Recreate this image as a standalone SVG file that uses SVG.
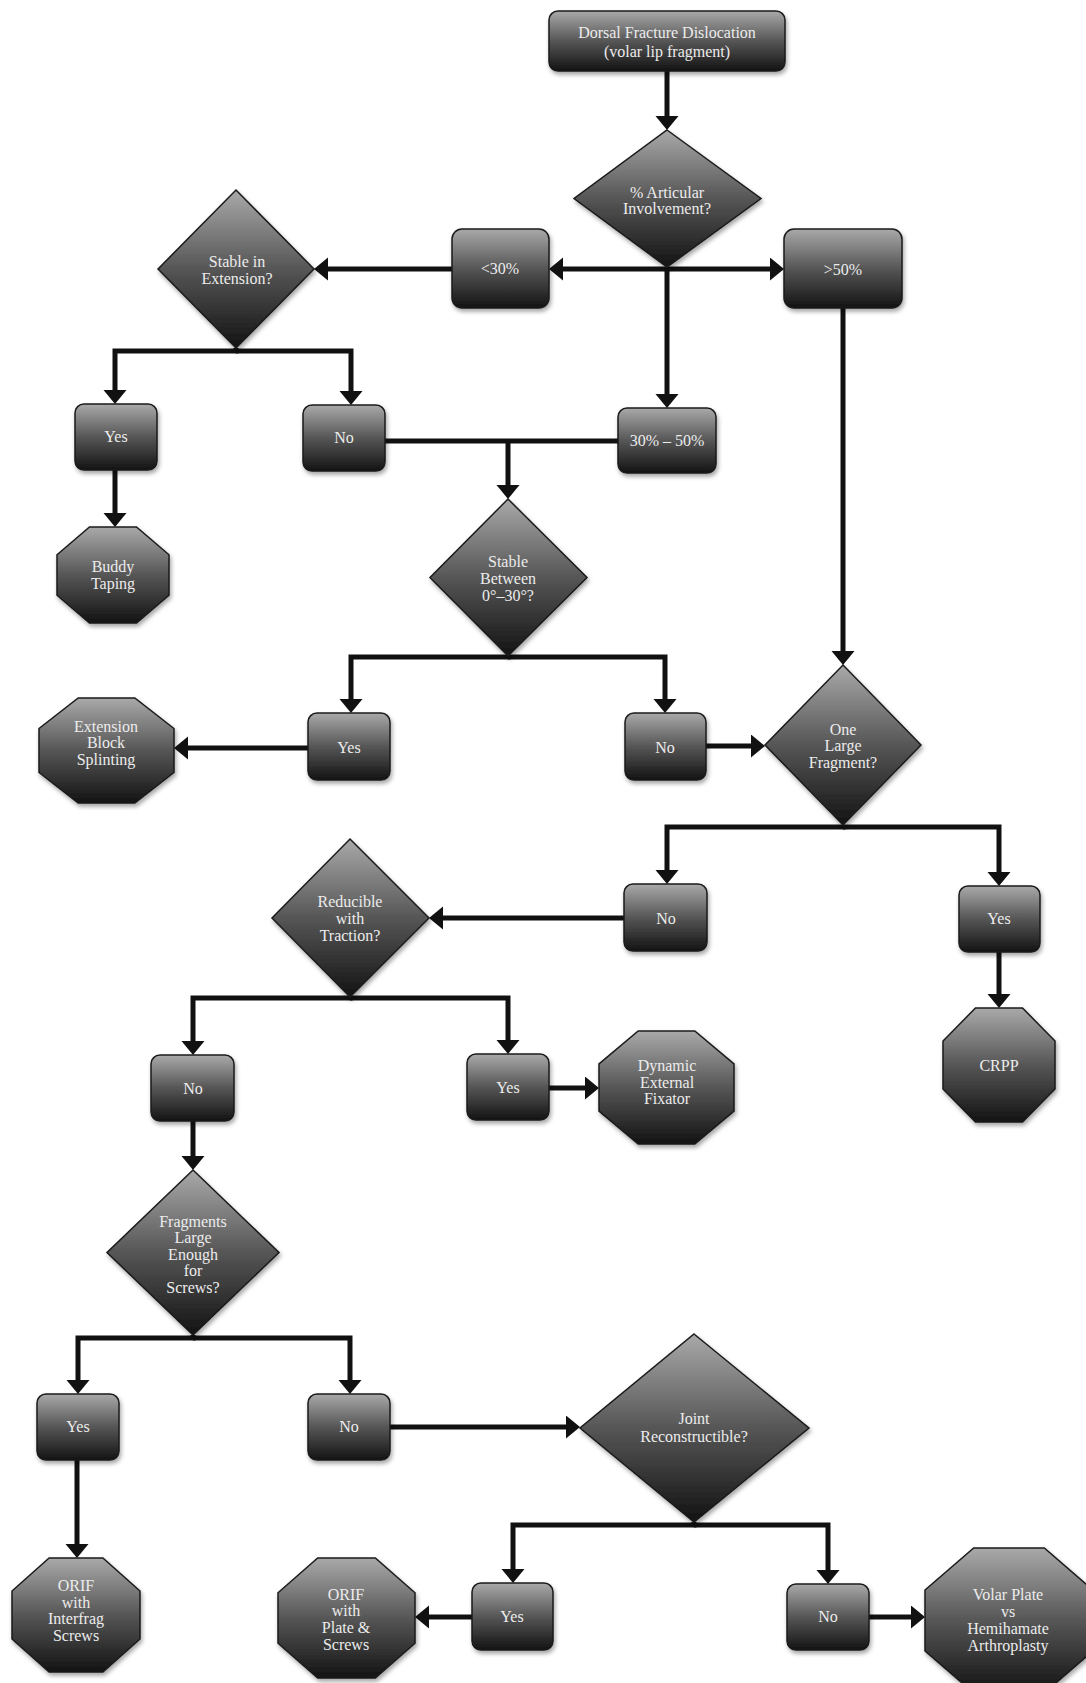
<svg xmlns="http://www.w3.org/2000/svg" width="1086" height="1683" viewBox="0 0 1086 1683">
<style>
.n{fill:url(#g);stroke:#1a1a1a;stroke-width:1.5;filter:url(#sh)}
.t{font-family:"Liberation Serif","Times New Roman",serif;font-size:16px;fill:#ececec;text-anchor:middle}
.c{fill:none;stroke:#111;stroke-width:5;stroke-linejoin:miter}
.a{marker-end:url(#ah)}
</style>
<defs>
<linearGradient id="g" x1="0" y1="0" x2="0" y2="1">
<stop offset="0" stop-color="#a9a9a9"/>
<stop offset="0.5" stop-color="#565656"/>
<stop offset="1" stop-color="#131313"/>
</linearGradient>
<filter id="sh" x="-20%" y="-20%" width="140%" height="150%">
<feDropShadow dx="1.5" dy="3" stdDeviation="2" flood-color="#000" flood-opacity="0.35"/>
</filter>
<marker id="ah" markerUnits="userSpaceOnUse" markerWidth="24" markerHeight="24" refX="4" refY="11.5" orient="auto">
<path d="M0,0 L14,11.5 L0,23 z" fill="#111"/>
</marker>
</defs>
<rect width="1086" height="1683" fill="#fff"/>
<g id="connectors">
<path class="c a" d="M667,71 V120"/>
<path class="c a" d="M667,269 H559"/>
<path class="c a" d="M667,269 H774"/>
<path class="c a" d="M667,267 V398"/>
<path class="c a" d="M452,269 H324"/>
<path class="c a" d="M236,348 V351 H115 V394"/>
<path class="c a" d="M236,351 H351 V395"/>
<path class="c a" d="M115,470 V517"/>
<path class="c" d="M385,441 H618"/>
<path class="c a" d="M508,441 V489"/>
<path class="c a" d="M508,656 V657 H351 V703"/>
<path class="c a" d="M508,657 H665 V703"/>
<path class="c a" d="M308,748 H184"/>
<path class="c a" d="M706,746 H755"/>
<path class="c a" d="M843,308 V655"/>
<path class="c a" d="M843,825 V827 H667 V874"/>
<path class="c a" d="M843,827 H999 V876"/>
<path class="c a" d="M624,918 H439"/>
<path class="c a" d="M999,952 V998"/>
<path class="c a" d="M350,997 V998 H193 V1045"/>
<path class="c a" d="M350,998 H508 V1044"/>
<path class="c a" d="M549,1088 H589"/>
<path class="c a" d="M193,1121 V1160"/>
<path class="c a" d="M193,1335 V1338 H78 V1384"/>
<path class="c a" d="M193,1338 H350 V1384"/>
<path class="c a" d="M77,1460 V1548"/>
<path class="c a" d="M390,1427 H570"/>
<path class="c a" d="M694,1522 V1525 H513 V1573"/>
<path class="c a" d="M694,1525 H828 V1574"/>
<path class="c a" d="M472,1617 H425"/>
<path class="c a" d="M869,1617 H915"/>
</g>
<g id="start"><rect class="n" x="549" y="11" width="236" height="60" rx="9"/><text class="t" x="667" y="38">Dorsal Fracture Dislocation</text><text class="t" x="667" y="57">(volar lip fragment)</text></g>
<g id="q-articular"><polygon class="n" points="667,130 761,198.5 667,267 574,198.5"/><text class="t" x="667" y="198">% Articular</text><text class="t" x="667" y="214">Involvement?</text></g>
<g id="lt30"><rect class="n" x="452" y="229" width="97" height="79" rx="10"/><text class="t" x="500" y="274">&lt;30%</text></g>
<g id="gt50"><rect class="n" x="784" y="229" width="118" height="79" rx="10"/><text class="t" x="843" y="275">&gt;50%</text></g>
<g id="q-ext"><polygon class="n" points="236,190 314,269 236,348 158,269"/><text class="t" x="237" y="267">Stable in</text><text class="t" x="237" y="284">Extension?</text></g>
<g id="yes1"><rect class="n" x="75" y="404" width="82" height="66" rx="9"/><text class="t" x="116" y="442">Yes</text></g>
<g id="no1"><rect class="n" x="303" y="405" width="82" height="66" rx="9"/><text class="t" x="344" y="443">No</text></g>
<g id="r3050"><rect class="n" x="618" y="408" width="98" height="65" rx="9"/><text class="t" x="667" y="446">30% – 50%</text></g>
<g id="buddy"><polygon class="n" points="89.5,527 136.5,527 169,554.8 169,595.2 136.5,623 89.5,623 57,595.2 57,554.8"/><text class="t" x="113" y="572">Buddy</text><text class="t" x="113" y="589">Taping</text></g>
<g id="q-between"><polygon class="n" points="508,499 587,577.5 508,656 430,577.5"/><text class="t" x="508" y="567">Stable</text><text class="t" x="508" y="584">Between</text><text class="t" x="508" y="601">0°–30°?</text></g>
<g id="extblock"><polygon class="n" points="78.2,698 134.8,698 174,728.5 174,772.5 134.8,803 78.2,803 39,772.5 39,728.5"/><text class="t" x="106" y="732">Extension</text><text class="t" x="106" y="748">Block</text><text class="t" x="106" y="765">Splinting</text></g>
<g id="yes2"><rect class="n" x="308" y="713" width="82" height="67" rx="9"/><text class="t" x="349" y="753">Yes</text></g>
<g id="no2"><rect class="n" x="625" y="713" width="81" height="67" rx="9"/><text class="t" x="665" y="753">No</text></g>
<g id="q-onelarge"><polygon class="n" points="843,665 921,745 843,825 765,745"/><text class="t" x="843" y="735">One</text><text class="t" x="843" y="751">Large</text><text class="t" x="843" y="768">Fragment?</text></g>
<g id="no3"><rect class="n" x="624" y="884" width="83" height="67" rx="9"/><text class="t" x="666" y="924">No</text></g>
<g id="yes3"><rect class="n" x="959" y="886" width="81" height="66" rx="9"/><text class="t" x="999" y="924">Yes</text></g>
<g id="q-reducible"><polygon class="n" points="350,839 429,918 350,997 272,918"/><text class="t" x="350" y="907">Reducible</text><text class="t" x="350" y="924">with</text><text class="t" x="350" y="941">Traction?</text></g>
<g id="crpp"><polygon class="n" points="975.5,1008 1022.5,1008 1055,1041 1055,1089 1022.5,1122 975.5,1122 943,1089 943,1041"/><text class="t" x="999" y="1071">CRPP</text></g>
<g id="no4"><rect class="n" x="151" y="1055" width="83" height="66" rx="9"/><text class="t" x="193" y="1094">No</text></g>
<g id="yes4"><rect class="n" x="467" y="1054" width="82" height="66" rx="9"/><text class="t" x="508" y="1093">Yes</text></g>
<g id="dynamic"><polygon class="n" points="638.2,1031 694.8,1031 734,1063.8 734,1111.2 694.8,1144 638.2,1144 599,1111.2 599,1063.8"/><text class="t" x="667" y="1071">Dynamic</text><text class="t" x="667" y="1088">External</text><text class="t" x="667" y="1104">Fixator</text></g>
<g id="q-fragments"><polygon class="n" points="193,1170 279,1252.5 193,1335 107,1252.5"/><text class="t" x="193" y="1227">Fragments</text><text class="t" x="193" y="1243">Large</text><text class="t" x="193" y="1260">Enough</text><text class="t" x="193" y="1276">for</text><text class="t" x="193" y="1293">Screws?</text></g>
<g id="yes5"><rect class="n" x="37" y="1394" width="82" height="66" rx="9"/><text class="t" x="78" y="1432">Yes</text></g>
<g id="no5"><rect class="n" x="308" y="1394" width="82" height="66" rx="9"/><text class="t" x="349" y="1432">No</text></g>
<g id="q-joint"><polygon class="n" points="694,1334 809,1428 694,1522 580,1428"/><text class="t" x="694" y="1424">Joint</text><text class="t" x="694" y="1442">Reconstructible?</text></g>
<g id="orif-interfrag"><polygon class="n" points="49.1,1558 102.9,1558 140,1591 140,1639 102.9,1672 49.1,1672 12,1639 12,1591"/><text class="t" x="76" y="1591">ORIF</text><text class="t" x="76" y="1608">with</text><text class="t" x="76" y="1624">Interfrag</text><text class="t" x="76" y="1641">Screws</text></g>
<g id="orif-plate"><polygon class="n" points="317.7,1558 375.3,1558 415,1592.8 415,1643.2 375.3,1678 317.7,1678 278,1643.2 278,1592.8"/><text class="t" x="346" y="1600">ORIF</text><text class="t" x="346" y="1616">with</text><text class="t" x="346" y="1633">Plate &amp;</text><text class="t" x="346" y="1650">Screws</text></g>
<g id="yes6"><rect class="n" x="472" y="1583" width="81" height="67" rx="9"/><text class="t" x="512" y="1622">Yes</text></g>
<g id="no6"><rect class="n" x="787" y="1584" width="82" height="66" rx="9"/><text class="t" x="828" y="1622">No</text></g>
<g id="volar"><polygon class="n" points="973.7,1548 1044.3,1548 1093,1590 1093,1651 1044.3,1693 973.7,1693 925,1651 925,1590"/><text class="t" x="1008" y="1600">Volar Plate</text><text class="t" x="1008" y="1617">vs</text><text class="t" x="1008" y="1634">Hemihamate</text><text class="t" x="1008" y="1651">Arthroplasty</text></g>
</svg>
